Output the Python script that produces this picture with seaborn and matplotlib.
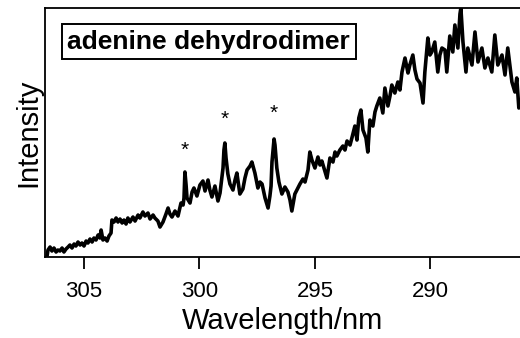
import matplotlib
matplotlib.use("Agg")
import matplotlib.pyplot as plt
import seaborn as sns
import pandas as pd

# Spectrum (wavelength in nm, intensity in arb. units)
wavelength = [
    306.60, 306.56, 306.47, 306.39, 306.30, 306.21, 306.13, 306.04, 305.95, 305.87,
    305.78, 305.69, 305.61, 305.52, 305.43, 305.35, 305.26, 305.17, 305.09, 305.00,
    304.91, 304.83, 304.74, 304.65, 304.57, 304.48, 304.39, 304.31, 304.26, 304.18,
    304.09, 304.00, 303.92, 303.83, 303.79, 303.70, 303.61, 303.53, 303.44, 303.35,
    303.27, 303.18, 303.10, 303.01, 302.88, 302.79, 302.66, 302.58, 302.45, 302.36,
    302.23, 302.14, 302.01, 301.93, 301.80, 301.71, 301.58, 301.45, 301.36, 301.28,
    301.19, 301.06, 300.93, 300.80, 300.71, 300.67, 300.63, 300.58, 300.54, 300.41,
    300.32, 300.24, 300.11, 299.98, 299.85, 299.76, 299.63, 299.55, 299.46, 299.33,
    299.20, 299.11, 299.03, 298.98, 298.94, 298.90, 298.85, 298.77, 298.68, 298.55,
    298.46, 298.38, 298.25, 298.12, 298.03, 297.94, 297.81, 297.73, 297.60, 297.47,
    297.38, 297.29, 297.16, 297.03, 296.95, 296.90, 296.86, 296.77, 296.73, 296.69,
    296.65, 296.56, 296.43, 296.30, 296.17, 296.08, 296.00, 295.87, 295.74, 295.65,
    295.52, 295.43, 295.30, 295.22, 295.13, 295.00, 294.87, 294.78, 294.70, 294.57,
    294.48, 294.35, 294.22, 294.13, 294.05, 293.92, 293.79, 293.70, 293.61, 293.48,
    293.40, 293.27, 293.18, 293.10, 293.01, 292.92, 292.79, 292.71, 292.62, 292.49,
    292.40, 292.32, 292.19, 292.06, 291.97, 291.84, 291.75, 291.67, 291.54, 291.41,
    291.32, 291.23, 291.10, 290.97, 290.89, 290.76, 290.67, 290.58, 290.45, 290.32,
    290.24, 290.11, 290.02, 289.94, 289.81, 289.68, 289.59, 289.50, 289.37, 289.29,
    289.16, 289.03, 288.94, 288.81, 288.72, 288.68, 288.59, 288.46, 288.38, 288.20,
    288.07, 287.94, 287.77, 287.64, 287.51, 287.34, 287.21, 287.08, 286.90, 286.77,
    286.65, 286.47, 286.34, 286.26, 286.17, 286.08,
]
intensity = [
    1, 7, 10, 6, 9, 5, 7, 6, 9, 5,
    8, 10, 12, 9, 13, 11, 15, 12, 14, 11,
    16, 14, 18, 15, 19, 17, 22, 19, 27, 17,
    19, 16, 21, 24, 37, 35, 39, 35, 38, 34,
    37, 33, 39, 35, 40, 36, 42, 39, 45, 41,
    44, 38, 42, 39, 36, 30, 35, 43, 49, 43,
    40, 46, 41, 54, 52, 59, 85, 72, 59, 54,
    65, 69, 61, 72, 76, 66, 77, 67, 60, 71,
    56, 64, 79, 89, 107, 114, 99, 83, 73, 67,
    77, 84, 63, 68, 79, 87, 91, 95, 84, 69,
    75, 73, 59, 49, 61, 71, 95, 118, 112, 101,
    89, 75, 63, 70, 65, 57, 46, 63, 69, 73,
    78, 75, 87, 105, 97, 89, 100, 92, 96, 86,
    79, 99, 95, 105, 101, 107, 111, 107, 116, 112,
    119, 131, 117, 139, 147, 127, 119, 105, 137, 131,
    145, 151, 159, 144, 169, 151, 161, 172, 164, 175,
    167, 185, 199, 184, 192, 202, 187, 178, 174, 154,
    185, 219, 202, 205, 215, 185, 202, 209, 207, 185,
    221, 205, 232, 209, 243, 249, 215, 185, 209, 192,
    225, 195, 209, 189, 199, 185, 222, 192, 202, 182,
    209, 175, 165, 179, 149, 155,
]

# asterisk-marked peaks
star_wl = [300.63, 298.90, 296.78]
star_y = [101, 132, 138]

label_text = "adenine dehydrodimer"
xticks = [305, 300, 295, 290]

sns.set_theme(style="white")
plt.rcParams['font.family'] = ['Liberation Sans', 'DejaVu Sans']

df = pd.DataFrame({"wl": wavelength, "I": intensity})

fig = plt.figure(figsize=(5.2, 3.38), dpi=100)
ax = fig.add_axes([0.0865, 0.2396, 0.9135, 0.7367])

sns.lineplot(data=df, x="wl", y="I", color="black", lw=2.6, estimator=None,
             sort=False, ax=ax)

for w, y in zip(star_wl, star_y):
    ax.text(w, y, "*", ha="center", va="baseline", fontsize=15, color="black")

ax.text(0.345, 0.865, label_text, transform=ax.transAxes, ha="center", va="center",
        fontsize=19, fontweight="bold", color="black",
        bbox=dict(boxstyle="square,pad=0.2", fc="white", ec="black", lw=1.4))

ax.set_xlim(306.69, 286.12)
ax.set_ylim(0, 249)
ax.set_xticks(xticks)
ax.set_xticklabels([str(t) for t in xticks])
ax.set_yticks([])
ax.tick_params(axis="x", direction="out", length=8.6, width=1.3, pad=9,
               labelsize=16, colors="black", bottom=True)
ax.set_xlabel("Wavelength/nm", fontsize=21, labelpad=3, color="black")
ax.set_ylabel("Intensity", fontsize=21, labelpad=2, color="black")

for side in ["left", "bottom", "top"]:
    ax.spines[side].set_color("black")
    ax.spines[side].set_linewidth(1.3)
ax.spines["right"].set_visible(False)

fig.savefig("out.png", dpi=100)
